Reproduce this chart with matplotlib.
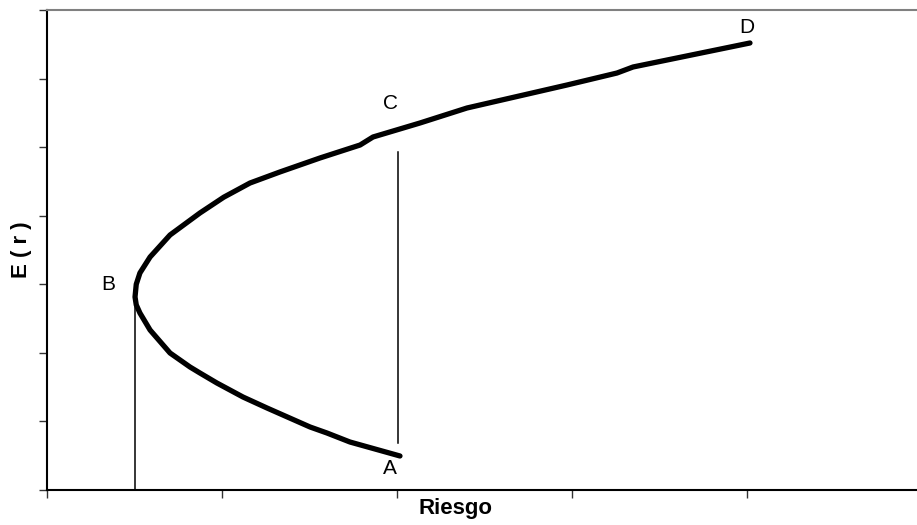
import matplotlib.pyplot as plt
import numpy as np

# Frontier curve (risk, expected return), from A up to D
riesgo = [2.017, 1.731, 1.600, 1.503, 1.257, 1.120, 0.971, 0.874, 0.817, 0.703,
          0.589, 0.531, 0.510, 0.503, 0.510, 0.531, 0.589, 0.703, 0.874, 1.010,
          1.160, 1.331, 1.560, 1.789, 1.863, 2.131, 2.400, 2.971, 3.257, 3.349,
          4.017]
retorno = [0.496, 0.700, 0.831, 0.919, 1.196, 1.356, 1.560, 1.706, 1.794, 1.998,
           2.333, 2.581, 2.700, 2.815, 3.000, 3.165, 3.398, 3.719, 4.040, 4.270,
           4.477, 4.638, 4.842, 5.031, 5.148, 5.352, 5.571, 5.906, 6.081, 6.169,
           6.519]

# Vertical guide lines: (x, y bottom, y top)
guias = [(0.503, 0.0, 2.815), (2.006, 0.686, 4.93)]

# Point labels
etiquetas = ['A', 'B', 'C', 'D']
etq_x = [1.96, 0.35, 1.96, 4.0]
etq_y = [0.32, 2.99, 5.63, 6.75]

plt.rcParams['font.family'] = ['Liberation Sans', 'DejaVu Sans']

fig = plt.figure(figsize=(9.17, 5.25), dpi=100)
ax = fig.add_axes([47 / 917, 35 / 525, 870 / 917, 480 / 525])

ax.plot(riesgo, retorno, color='black', linewidth=3.8,
        solid_capstyle='round', solid_joinstyle='round')

for gx, y0, y1 in guias:
    ax.plot([gx, gx], [y0, y1], color='black', linewidth=1.1)

for t, tx, ty in zip(etiquetas, etq_x, etq_y):
    ax.text(tx, ty, t, fontsize=15, ha='center', va='center')

ax.set_xlim(0, 870 / 175)
ax.set_ylim(0, 7)
ax.set_xticks(np.arange(0, 5))
ax.set_yticks(np.arange(0, 8))
ax.set_xticklabels([])
ax.set_yticklabels([])
ax.tick_params(direction='out', length=6, width=1, color='#333333')

ax.spines['right'].set_visible(False)
ax.spines['top'].set_color('#808080')
ax.spines['top'].set_linewidth(1.5)
ax.spines['left'].set_linewidth(1.5)
ax.spines['bottom'].set_linewidth(1.5)

ax.set_xlabel('Riesgo', fontsize=16, fontweight='bold')
ax.set_ylabel('E ( r )', fontsize=16, fontweight='bold')
ax.xaxis.set_label_coords(0.47, -0.017)
ax.yaxis.set_label_coords(-0.017, 0.5)

fig.savefig('out.png', dpi=100)
